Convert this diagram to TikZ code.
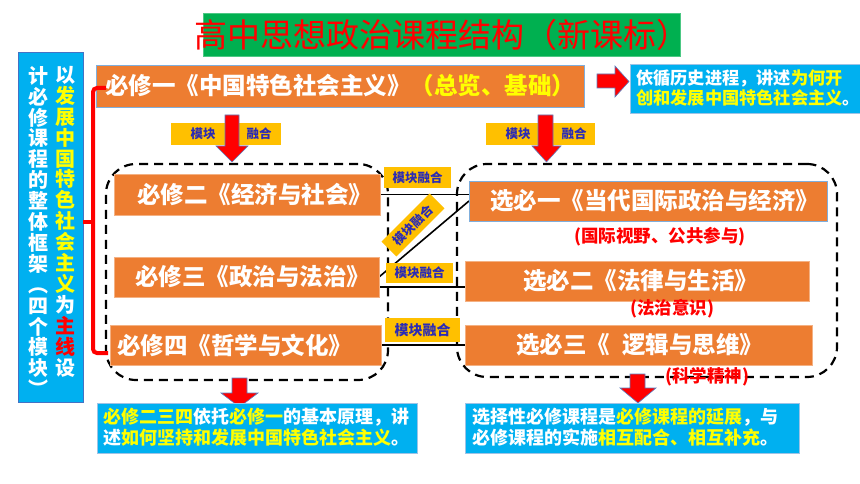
\documentclass[tikz,border=0pt]{standalone}
\usepackage{fontspec}
\newfontfamily\cjk{Noto Sans CJK SC}
\usetikzlibrary{arrows.meta}
\definecolor{orng}{HTML}{ED7D31}
\definecolor{orngb}{HTML}{F4B183}
\definecolor{sky}{HTML}{00B0F0}
\definecolor{skyb}{HTML}{9DC3E6}
\definecolor{barb}{HTML}{4472C4}
\definecolor{topb}{HTML}{7FAEDC}
\definecolor{grn}{HTML}{00B050}
\definecolor{lab}{HTML}{FFC000}
\definecolor{navy}{HTML}{2B2BB5}
\definecolor{ylw}{HTML}{FFFF00}
\definecolor{arrb}{HTML}{5B7FC0}
\newcommand\hlY[1]{\textcolor{ylw}{#1}}
\newcommand\hlR[1]{\textcolor{red}{#1}}
\begin{document}
\begin{tikzpicture}[x=1pt,y=-1pt,
  box/.style={anchor=north west, inner sep=0pt, outer sep=0pt},
  obox/.style={box, fill=orng, draw=orngb, line width=0.8pt},
  bbox/.style={box, fill=sky, draw=skyb, line width=0.8pt},
  gbox/.style={box, draw=black, line width=2.2pt, dash pattern=on 9pt off 6pt, rounded corners=30pt},
  wt/.style={text=white, font=\cjk\bfseries\fontsize{23.5}{26}\selectfont, inner sep=0pt, anchor=west},
  lbl/.style={fill=lab, text=navy, font=\cjk\bfseries\fontsize{12.5}{14}\selectfont, inner sep=0pt},
  lbltx/.style={text=navy, font=\cjk\bfseries\fontsize{12.5}{14}\selectfont, inner sep=0pt},
  note/.style={text=red, font=\cjk\bfseries\fontsize{17.5}{20}\selectfont, inner sep=0pt},
  para/.style={anchor=north west, align=left, inner sep=0pt, text=white},
  vcol/.style={anchor=north, align=center, inner sep=0pt, text=white, font=\cjk\bfseries\fontsize{20}{20.9}\selectfont},
  conn/.style={draw=black, line width=1.6pt},
  barrow/.style={fill=red, draw=arrb, line width=0.6pt}
]
\useasboundingbox (0,0) rectangle (860,484);
\fill[white] (0,0) rectangle (860,484);

% title
\node[box, fill=grn, draw=grn!70!white, minimum width=477pt, minimum height=43pt] (title) at (203,13) {};
\node[text=red, font=\cjk\fontsize{33}{36}\selectfont, inner sep=0pt] (titletx) at (title.center) {高中思想政治课程结构（新课标）};

% left vertical bar
\node[box, fill=sky, draw=barb, line width=1pt, minimum width=65pt, minimum height=349pt] (bar) at (18,53) {};
\node[vcol] (colR) at (65,66) {以\\\hlY{发}\\\hlY{展}\\\hlY{中}\\\hlY{国}\\\hlY{特}\\\hlY{色}\\\hlY{社}\\\hlY{会}\\\hlY{主}\\\hlY{义}\\为\\\hlR{主}\\\hlR{线}\\设};
\node[vcol] (colL) at (38,66) {计\\必\\修\\课\\程\\的\\整\\体\\框\\架\\︵\\四\\个\\模\\块\\︶};

% connectors between groups
\node[obox, minimum width=266pt, minimum height=41pt] (b2) at (114,174) {};
\node[obox, minimum width=265pt, minimum height=40pt] (b3) at (114,257) {};
\node[obox, minimum width=271pt, minimum height=40pt] (b4) at (110,325) {};
\node[obox, draw=topb, minimum width=358pt, minimum height=40pt] (x1) at (469,181) {};
\node[obox, minimum width=344pt, minimum height=40pt] (x2) at (465,261) {};
\node[obox, minimum width=347pt, minimum height=40pt] (x3) at (465,325) {};

\draw[conn] (b2.east) -- (b2.east -| x1.west);
\draw[conn] (b3.east) -- (x1.west);
\draw[conn] ([yshift=-10pt]b3.east) -- ([yshift=-10pt]b3.east -| x2.west);
\draw[conn] (b4.east) -- (x3.west);

% dashed groups
\node[gbox, minimum width=282pt, minimum height=216pt] (g1) at (106,164) {};
\node[gbox, minimum width=380pt, minimum height=213pt] (g2) at (457,164) {};

% redraw boxes on top of dashed lines
\node[obox, minimum width=266pt, minimum height=41pt] at (b2.north west) {};
\node[obox, minimum width=265pt, minimum height=40pt] at (b3.north west) {};
\node[obox, minimum width=271pt, minimum height=40pt] at (b4.north west) {};
\node[obox, draw=topb, minimum width=358pt, minimum height=40pt] at (x1.north west) {};
\node[obox, minimum width=344pt, minimum height=40pt] at (x2.north west) {};
\node[obox, minimum width=347pt, minimum height=40pt] at (x3.north west) {};

% top box
\node[obox, draw=topb, minimum width=488pt, minimum height=42pt] (b1) at (96,65) {};
\node[wt] (t1) at (105,86) {必修一《中国特色社会主义》\hlY{（总览、基础）}};

% red brace
\coordinate (brA) at (106,88);
\coordinate (brB) at (108,353);
\coordinate (brM) at (93,222);
\draw[red, line width=4pt, rounded corners=4pt] (brA) -- (93,88) -- (93,353) -- (brB);
\draw[red, line width=4pt] (brM) -- (bar.east |- brM);

% box texts
\node[wt] (t2) at (137,194.5) {必修二《经济与社会》};
\node[wt] (t3) at (135,277) {必修三《政治与法治》};
\node[wt] (t4) at (117,345) {必修四《哲学与文化》};
\node[wt] (s1) at (490,201) {选必一《当代国际政治与经济》};
\node[wt] (s2) at (523,281) {选必二《法律与生活》};
\node[wt] (s3) at (516,345) {选必三《\hspace{12pt}逻辑与思维》};

\node[note] (n1) at (660,237) {(国际视野、公共参与)};
\node[note] (n2) at (672,309) {(法治意识)};

% labels between groups
\node[lbl, minimum width=67pt, minimum height=21pt] (L1) at (417.5,177.5) {模块融合};
\node[lbl, rotate=45, minimum width=68pt, minimum height=21pt] (L2) at (413,225) {模块融合};
\node[lbl, minimum width=67pt, minimum height=20pt] (L3) at (419.5,273) {模块融合};
\node[lbl, font=\cjk\bfseries\fontsize{14}{16}\selectfont, minimum width=75pt, minimum height=24pt] (L4) at (422.5,330) {模块融合};

% arrow labels
\node[box, fill=lab, minimum width=110pt, minimum height=22pt] (A1) at (171,123) {};
\node[lbltx] (A1a) at (203,134) {模块};
\node[lbltx] (A1b) at (259,134) {融合};
\node[box, fill=lab, minimum width=109pt, minimum height=22pt] (A2) at (486,123) {};
\node[lbltx] (A2a) at (518,134) {模块};
\node[lbltx] (A2b) at (574,134) {融合};

% block arrows
\filldraw[barrow] (225,115) -- (239,115) -- (239,146) -- (248,146) -- (232,162) -- (216,146) -- (225,146) -- cycle;
\filldraw[barrow] (538,115) -- (553,115) -- (553,146) -- (561,146) -- (546.5,162) -- (532,146) -- (538,146) -- cycle;
\filldraw[barrow] (597,74) -- (615,74) -- (615,66) -- (629,81.5) -- (615,97) -- (615,88) -- (597,88) -- cycle;
\filldraw[barrow] (232,378) -- (247,378) -- (247,393) -- (258,393) -- (239.5,407) -- (221,393) -- (232,393) -- cycle;
\filldraw[barrow] (630,374) -- (645,374) -- (645,388) -- (656,388) -- (638,403) -- (620,388) -- (630,388) -- cycle;

\node[note] (n3) at (707,377) {(科学精神)};

% blue explanation boxes
\node[bbox, minimum width=230pt, minimum height=49pt] (e1) at (630,64) {};
\node[para, font=\cjk\bfseries\fontsize{17.2}{20}\selectfont] (e1t) at (636,69) {依循历史进程，讲述\hlY{为何开}\\\hlY{创和发展中国特色社会主义}。};
\node[bbox, minimum width=320pt, minimum height=50pt] (e2) at (97,403) {};
\node[para, font=\cjk\bfseries\fontsize{18}{21}\selectfont] (e2t) at (103,408) {\hlY{必修二三四}依托\hlY{必修一}的基本原理，讲\\述\hlY{如何坚持和发展中国特色社会主义}。};
\node[bbox, minimum width=334pt, minimum height=50pt] (e3) at (465,403) {};
\node[para, font=\cjk\bfseries\fontsize{18}{21}\selectfont] (e3t) at (472,408) {选择性必修课程是\hlY{必修课程的延展}，与\\必修课程的实施\hlY{相互配合、相互补充}。};
\end{tikzpicture}
\end{document}
